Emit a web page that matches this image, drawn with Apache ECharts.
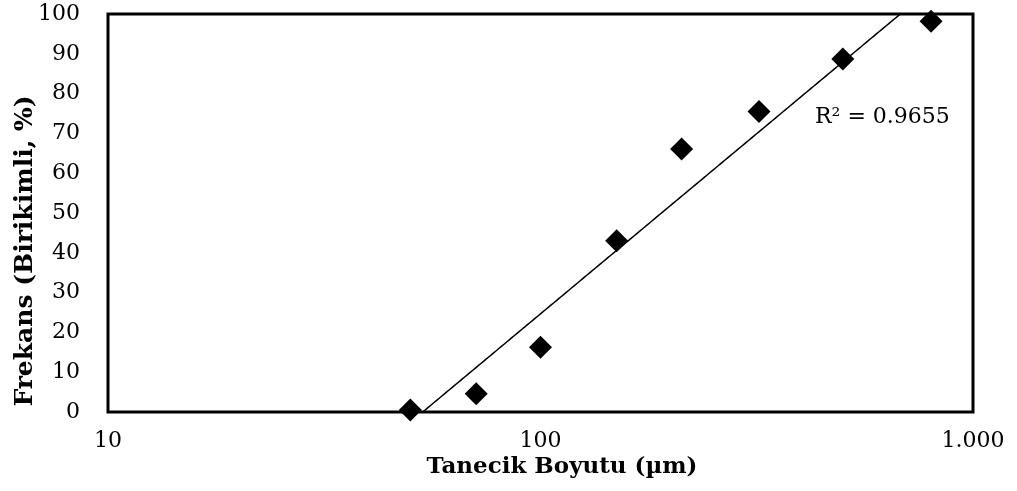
<!DOCTYPE html>
<html>
<head>
<meta charset="utf-8">
<script src="https://cdn.jsdelivr.net/npm/echarts@6/dist/echarts.min.js"></script>
<style>
  html, body { margin: 0; padding: 0; background: #fff; }
  #chart { width: 1017px; height: 491px; }
</style>
</head>
<body>
<div id="chart"></div>
<script>
// Particle size (µm) and cumulative frequency (%)
const particleSize = [50, 71, 100, 150, 212, 320, 500, 800];
const cumulativeFreq = [0.5, 4.6, 16.3, 43.0, 66.1, 75.5, 88.7, 98.2];
const yTicks = [0, 10, 20, 30, 40, 50, 60, 70, 80, 90, 100];
const rSquaredText = 'R² = 0.9655';

// Logarithmic trendline: y = a * log10(x) + b, least squares
const lx = particleSize.map(v => Math.log10(v));
const n = lx.length;
const mx = lx.reduce((s, v) => s + v, 0) / n;
const my = cumulativeFreq.reduce((s, v) => s + v, 0) / n;
let sxy = 0, sxx = 0;
for (let i = 0; i < n; i++) {
  sxy += (lx[i] - mx) * (cumulativeFreq[i] - my);
  sxx += (lx[i] - mx) * (lx[i] - mx);
}
const slope = sxy / sxx;
const intercept = my - slope * mx;
const trend = [];
const lo = Math.log10(particleSize[0]);
const hi = Math.log10(particleSize[particleSize.length - 1]);
for (let k = 0; k <= 200; k++) {
  const t = lo + (hi - lo) * k / 200;
  trend.push([Math.pow(10, t), slope * t + intercept]);
}

const serif = '"DejaVu Serif", "Liberation Serif", serif';
const chart = echarts.init(document.getElementById('chart'));
chart.setOption({
  animation: false,
  backgroundColor: '#fff',
  grid: {
    left: 108, right: 44, top: 14, bottom: 79,
    show: true, borderColor: '#000', borderWidth: 3, backgroundColor: 'transparent'
  },
  xAxis: {
    type: 'log', logBase: 10, min: 10, max: 1000,
    axisLine: { show: false },
    axisTick: { show: false },
    splitLine: { show: false },
    minorTick: { show: false },
    axisLabel: {
      color: '#000', fontFamily: serif, fontSize: 22, margin: 18,
      formatter: v => String(Math.round(v)).replace(/\B(?=(\d{3})+(?!\d))/g, '.')
    }
  },
  yAxis: {
    type: 'value', min: yTicks[0], max: yTicks[yTicks.length - 1], interval: yTicks[1] - yTicks[0],
    axisLine: { show: false },
    axisTick: { show: false },
    splitLine: { show: false },
    axisLabel: { color: '#000', fontFamily: serif, fontSize: 22, margin: 28 }
  },
  series: [
    {
      type: 'line',
      data: trend,
      showSymbol: false,
      symbol: 'none',
      clip: true,
      lineStyle: { color: '#000', width: 1.5 },
      z: 2
    },
    {
      type: 'scatter',
      data: particleSize.map((x, i) => [x, cumulativeFreq[i]]),
      symbol: 'diamond',
      symbolSize: 23,
      itemStyle: { color: '#000', opacity: 1 },
      clip: false,
      z: 3
    }
  ],
  graphic: [
    {
      type: 'text', left: 815, top: 106,
      style: { text: rSquaredText, fill: '#000', font: '22px ' + serif }
    },
    {
      type: 'text', x: 562, y: 467,
      style: {
        text: 'Tanecik Boyutu (µm)', fill: '#000', font: 'bold 23px ' + serif,
        align: 'center', verticalAlign: 'middle'
      }
    },
    {
      type: 'text', x: 25, y: 251, rotation: Math.PI / 2,
      style: {
        text: 'Frekans (Birikimli, %)', fill: '#000', font: 'bold 25px ' + serif,
        align: 'center', verticalAlign: 'middle'
      }
    }
  ]
});
</script>
</body>
</html>
